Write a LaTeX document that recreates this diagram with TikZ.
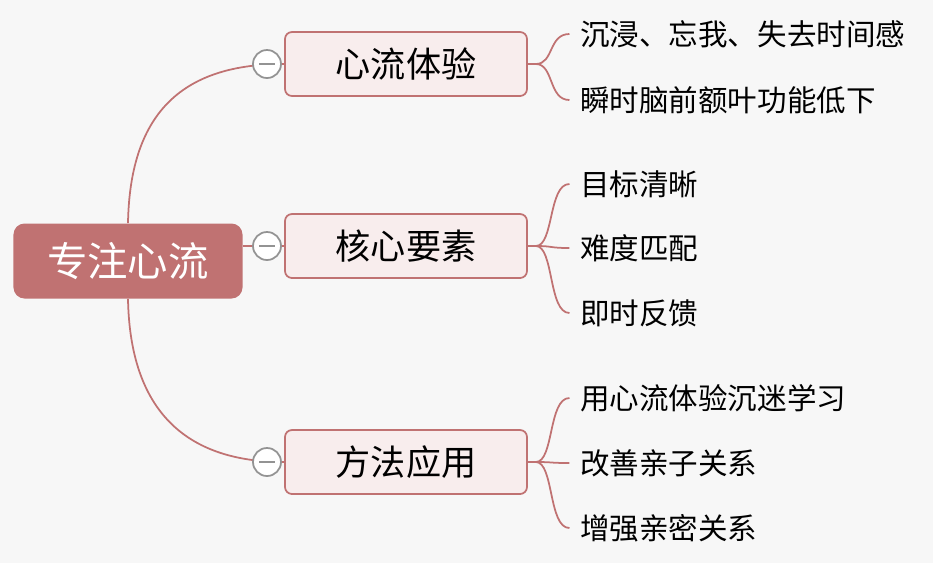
\documentclass[tikz,border=0pt]{standalone}
\usepackage{fontspec}
\setmainfont{Noto Sans CJK SC}
\usetikzlibrary{positioning}
\definecolor{rosedark}{HTML}{C07272}
\definecolor{roselight}{HTML}{F8EDED}
\begin{document}
\begin{tikzpicture}
    [
        x=0.2mm, y=-0.2mm,
        root_node/.style={rectangle, rounded corners=2.2mm, fill=rosedark, text=white, minimum width=45.8mm, minimum height=15mm, font=\fontsize{23}{27}\selectfont},
        topic_node/.style={rectangle, rounded corners=1.4mm, draw=rosedark, fill=roselight, line width=0.35mm, minimum width=48.4mm, minimum height=12.8mm, font=\fontsize{20}{24}\selectfont},
        fold_node/.style={circle, draw=gray!85, fill=white, line width=0.35mm, minimum size=5.6mm, inner sep=0pt},
        leaf_node/.style={anchor=west, inner sep=0pt, font=\fontsize{16.8}{20}\selectfont},
        link/.style={draw=rosedark, line width=0.35mm},
    ]
        \fill[white!97!black] (0,0) rectangle (933,563);
        \node[root_node] (root) at (128,261) {专注心流};
        \node[topic_node] (t1) at (406,64) {心流体验};
        \node[topic_node] (t2) at (406,246) {核心要素};
        \node[topic_node] (t3) at (406,462) {方法应用};
        % curves from the root
        \draw[link] (root.north) .. controls (130,110) and (185,64) .. (t1.west);
        \draw[link] (root.east |- t2.west) -- (t2.west);
        \draw[link] (root.south) .. controls (130,410) and (185,462) .. (t3.west);
        \node[fold_node] (f1) at (267,64) {};
        \node[fold_node] (f2) at (267,246) {};
        \node[fold_node] (f3) at (267,462) {};
        \foreach \f in {f1,f2,f3}
            \draw[gray!85, line width=0.35mm] ([xshift=-1.6mm]\f.center) -- ([xshift=1.6mm]\f.center);
        % leaves
        \node[leaf_node] (l11) at (580,34) {沉浸、忘我、失去时间感};
        \node[leaf_node] (l12) at (580,100) {瞬时脑前额叶功能低下};
        \node[leaf_node] (l21) at (580,184) {目标清晰};
        \node[leaf_node] (l22) at (580,248) {难度匹配};
        \node[leaf_node] (l23) at (580,313) {即时反馈};
        \node[leaf_node] (l31) at (580,398) {用心流体验沉迷学习};
        \node[leaf_node] (l32) at (580,463) {改善亲子关系};
        \node[leaf_node] (l33) at (580,528) {增强亲密关系};
        \foreach \t/\l in {t1/l11,t1/l12,t2/l21,t2/l22,t2/l23,t3/l31,t3/l32,t3/l33}
            \draw[link] (\t.east) -- ++(8,0) .. controls +(18,0) and ([xshift=-18]\l.west) .. ([xshift=-6]\l.west);
    \end{tikzpicture}
\end{document}
